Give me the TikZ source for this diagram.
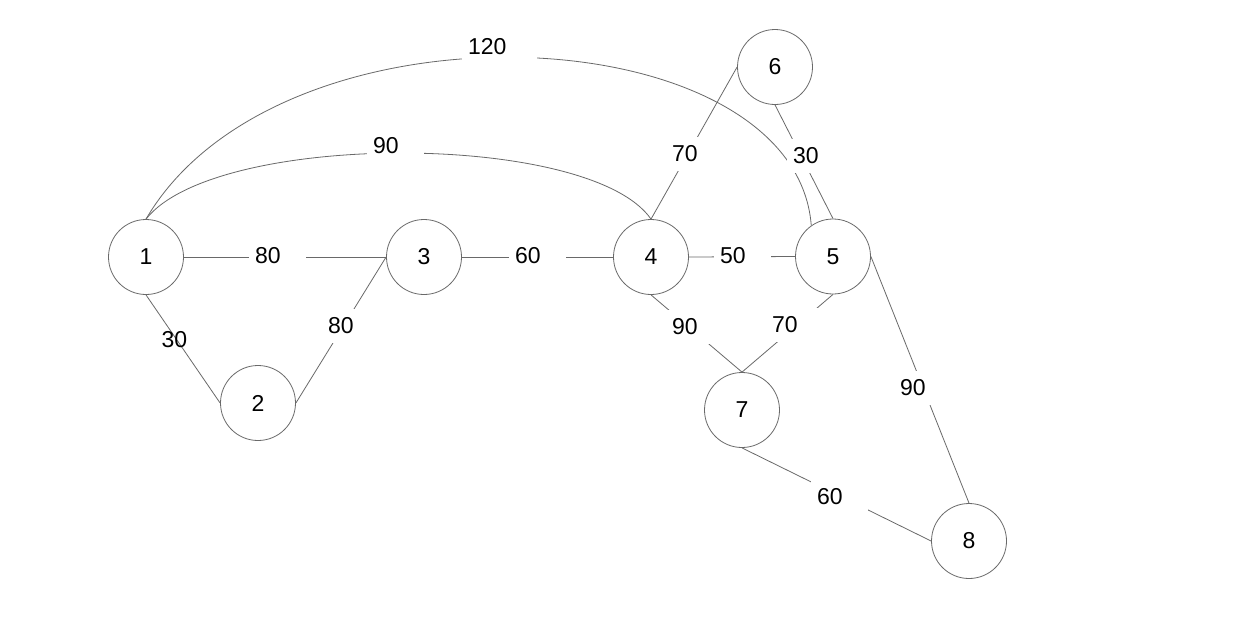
\documentclass[tikz,border=0pt]{standalone}
\usepackage{fontspec}
\setmainfont{Liberation Sans}
\definecolor{edgegray}{RGB}{105,105,105}
\tikzset{
  vtx/.style={circle, draw=edgegray, line width=0.8pt, minimum size=75pt, inner sep=0pt, font=\fontsize{23}{25}\selectfont},
  edge/.style={draw=edgegray, line width=0.8pt},
  lbl/.style={fill=white, inner xsep=6pt, inner ysep=0pt, text width=45pt, align=left, minimum height=34pt, font=\fontsize{23}{25}\selectfont},
  lblw/.style={lbl, text width=63pt},
  lblplain/.style={inner sep=0pt, font=\fontsize{23}{25}\selectfont}
}
\begin{document}
\begin{tikzpicture}[x=1pt,y=-1pt]
\useasboundingbox (0,0) rectangle (1249,622);
\fill[white] (0,0) rectangle (1249,622);
% vertices
\node[vtx] (n1) at (146,257) {1};
\node[vtx] (n2) at (258,403) {2};
\node[vtx] (n3) at (424,257) {3};
\node[vtx] (n4) at (651,257) {4};
\node[vtx] (n5) at (833,256.5) {5};
\node[vtx] (n6) at (775,67) {6};
\node[vtx] (n7) at (742,410) {7};
\node[vtx] (n8) at (969,541) {8};
% edges
\draw[edge] (n1.east) -- (n3.west);
\draw[edge] (n3.east) -- (n4.west);
\draw[edge] (n4.east) -- (n5.west);
\draw[edge] (n1.south) -- (n2.west);
\draw[edge] (n2.east) -- (n3.west);
\draw[edge] (n6.west) -- (n4.north);
\draw[edge] (n6.south) -- (n5.north);
\draw[edge] (n4.south) -- (n7.north);
\draw[edge] (n5.south) -- (n7.north);
\draw[edge] (n7.south) -- (n8.west);
\draw[edge] (n5.east) -- (n8.north);
\draw[edge] (n1.north) .. controls (215,131) and (590,131) .. (n4.north);
\draw[edge] (n1.north) .. controls (280,-10) and (795,15) .. (n5.125);
% labels
\node[lbl] (l13) at (277.5,256) {80};
\node[lbl] (l34) at (537.5,256) {60};
\node[lbl] (l45) at (742.5,256) {50};
\node[lbl] (l23) at (350.5,326) {80};
\node[lbl] (l64) at (694.5,154) {70};
\node[lbl] (l65) at (815.5,156) {30};
\node[lbl] (l47) at (694.5,327) {90};
\node[lbl] (l57) at (794.5,325) {70};
\node[lbl] (l78) at (839.5,497) {60};
\node[lbl] (l58) at (922.5,388) {90};
\node[lbl] (l14) at (395.5,146) {90};
\node[lblw] (l15) at (499.5,47) {120};
\node[lblplain] (l12) at (174.5,340) {30};
\end{tikzpicture}
\end{document}
